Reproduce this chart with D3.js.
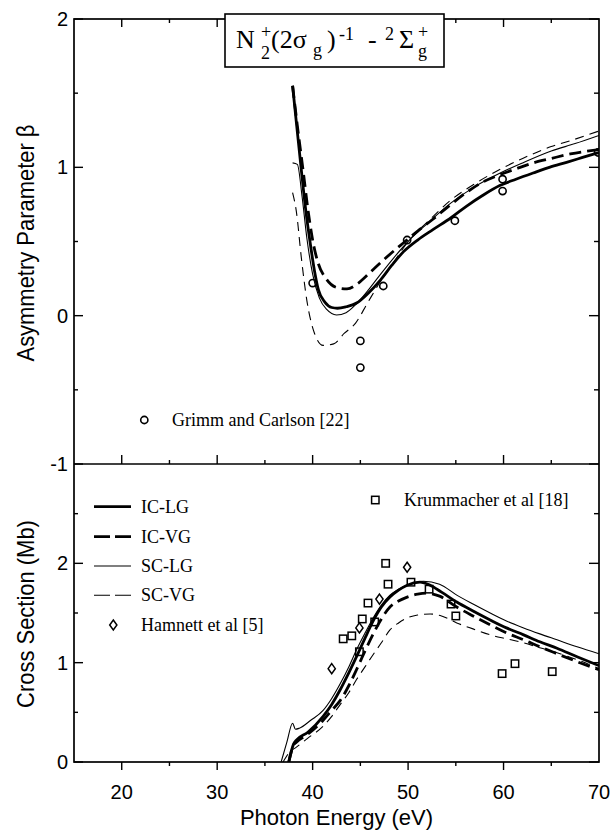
<!DOCTYPE html>
<html><head><meta charset="utf-8">
<script src="https://cdn.jsdelivr.net/npm/d3@7"></script>
<style>body{margin:0;background:#fff}svg{display:block}</style>
</head><body>
<svg id="c" width="613" height="831"></svg>
<script>
// ---------- data ----------
const energyTicks = [20, 30, 40, 50, 60, 70];
const energyMinor = [25, 35, 45, 55, 65];
const betaTicks = [-1, 0, 1, 2];
const betaMinor = [-0.5, 0.5, 1.5];
const csTicks = [0, 1, 2];
const csMinor = [0.5, 1.5, 2.5];

// Asymmetry parameter beta curves [energy, beta]
const betaICLG = [[37.9,1.55],[38.3,1.3],[38.85,0.96],[39.3,0.7],[39.7,0.51],[40.2,0.3],[40.6,0.175],[41.3,0.09],[42.0,0.055],[42.6,0.05],[43.5,0.06],[44.6,0.085],[45.8,0.15],[47.1,0.24],[48.3,0.34],[49.5,0.43],[51,0.51],[52.6,0.58],[54.5,0.66],[56.1,0.737],[57.8,0.81],[59.6,0.877],[61.3,0.92],[63.1,0.962],[64.8,1.0],[66.6,1.034],[68.2,1.065],[70,1.1]];
const betaICVG = [[37.9,1.55],[38.4,1.28],[39,0.98],[39.5,0.72],[40.0,0.51],[40.6,0.35],[41.4,0.25],[42.5,0.19],[43.6,0.18],[44.8,0.22],[46,0.29],[47.5,0.38],[49.5,0.49],[51,0.57],[52.6,0.65],[54.3,0.74],[56.1,0.83],[57.8,0.9],[59.6,0.95],[61.3,0.99],[63.1,1.03],[65,1.06],[67,1.09],[70,1.12]];
const betaSCLG = [[37.9,1.03],[38.4,1.02],[38.9,0.8],[39.4,0.52],[40.0,0.28],[40.7,0.12],[41.5,0.04],[42.5,0.005],[43.5,0.02],[44.6,0.08],[45.8,0.17],[47,0.27],[48.5,0.39],[50,0.5],[52,0.62],[54.5,0.76],[57,0.87],[59.6,0.96],[62,1.03],[65,1.11],[67.5,1.16],[70,1.215]];
const betaSCVG = [[37.9,0.83],[38.3,0.7],[38.8,0.4],[39.4,0.1],[40.2,-0.12],[41.1,-0.2],[42.2,-0.19],[43.3,-0.12],[44.5,-0.05],[45.7,0.08],[47,0.22],[48.5,0.36],[50,0.5],[52,0.63],[54.5,0.78],[57,0.89],[59.6,0.985],[62,1.06],[65,1.14],[67.5,1.19],[70,1.245]];
const grimmCarlson = [[40,0.22],[45,-0.17],[45,-0.35],[47.4,0.2],[49.9,0.51],[54.9,0.64],[59.9,0.84],[59.9,0.92],[69.9,1.10]];

// Cross section curves [energy, Mb]
const csICLG = [[37.5,0],[38.0,0.18],[38.3,0.22],[39.5,0.3],[41.1,0.46],[42.0,0.58],[42.9,0.73],[43.8,0.9],[44.6,1.06],[45.5,1.25],[46.4,1.43],[47.2,1.56],[48.1,1.66],[49.0,1.73],[49.9,1.78],[51.25,1.81],[52.3,1.78],[53.5,1.71],[55.1,1.61],[56.8,1.52],[58.6,1.43],[60.3,1.35],[62.1,1.28],[63.8,1.21],[65.6,1.145],[67.7,1.06],[70,0.97]];
const csICVG = [[37.5,0],[38.0,0.17],[38.3,0.2],[39.5,0.28],[41.1,0.42],[42.0,0.52],[42.9,0.62],[43.8,0.77],[44.6,0.93],[45.5,1.12],[46.4,1.30],[47.2,1.44],[48.1,1.56],[49.0,1.62],[49.9,1.66],[51.0,1.69],[51.9,1.70],[53.3,1.67],[55.1,1.56],[56.8,1.47],[58.6,1.38],[60.3,1.30],[62.1,1.23],[63.8,1.16],[65.6,1.09],[67.7,1.01],[70,0.93]];
const csSCLG = [[36.7,0],[37.3,0.2],[37.9,0.39],[38.2,0.33],[38.6,0.34],[39.8,0.42],[41.1,0.52],[42.0,0.64],[42.9,0.79],[43.8,0.96],[44.6,1.13],[45.5,1.30],[46.4,1.46],[47.2,1.58],[48.1,1.68],[49,1.74],[49.9,1.78],[51.6,1.82],[53.3,1.79],[55.1,1.68],[56.8,1.59],[58.6,1.50],[60.3,1.42],[62.1,1.35],[63.8,1.29],[65.6,1.23],[67.7,1.16],[70,1.09]];
const csSCVG = [[36.9,0],[37.6,0.1],[38.3,0.15],[39.5,0.24],[41.1,0.36],[42.0,0.46],[42.9,0.58],[43.8,0.7],[44.6,0.83],[45.5,0.96],[46.4,1.09],[47.2,1.2],[48.1,1.33],[49,1.40],[49.9,1.45],[51,1.48],[52.3,1.49],[53.5,1.47],[55.1,1.40],[56.8,1.34],[58.6,1.28],[60.3,1.24],[62.1,1.20],[63.8,1.15],[65.6,1.10],[67.7,1.03],[70,0.94]];
const krummacher = [[47.65,2.0],[47.9,1.79],[50.3,1.81],[52.2,1.74],[45.8,1.60],[46.5,1.41],[45.2,1.44],[44.1,1.27],[43.2,1.24],[44.9,1.11],[54.5,1.59],[55.0,1.47],[59.85,0.89],[61.2,0.99],[65.1,0.91]];
const hamnett = [[42.0,0.94],[44.9,1.35],[47.0,1.64],[49.9,1.96]];

const seriesNames = ["IC-LG", "IC-VG", "SC-LG", "SC-VG"];

// ---------- layout ----------
const svg = d3.select('#c');
const SERIF = '"Liberation Serif","Times New Roman",serif';
const SANS = '"Liberation Sans",Arial,Helvetica,sans-serif';
const L = 74, R = 599, T = 19, M = 464, B = 762;
const x = d3.scaleLinear().domain([15, 70]).range([L, R]);
const yB = d3.scaleLinear().domain([-1, 2]).range([M, T]);
const yC = d3.scaleLinear().domain([0, 3]).range([B, M]);

const styles = {
  "IC-LG": {w: 2.8, dash: null},
  "IC-VG": {w: 2.8, dash: "12,6"},
  "SC-LG": {w: 1.1, dash: null},
  "SC-VG": {w: 1.1, dash: "9,6"}
};

const defs = svg.append('defs');
defs.append('clipPath').attr('id', 'clipTop').append('rect').attr('x', L).attr('y', T).attr('width', R - L).attr('height', M - T);
defs.append('clipPath').attr('id', 'clipBot').append('rect').attr('x', L).attr('y', M).attr('width', R - L).attr('height', B - M);

// frames
svg.append('rect').attr('x', L).attr('y', T).attr('width', R - L).attr('height', B - T)
  .attr('fill', 'none').attr('stroke', '#000').attr('stroke-width', 1.7);
svg.append('line').attr('x1', L).attr('x2', R).attr('y1', M).attr('y2', M)
  .attr('stroke', '#000').attr('stroke-width', 1.7);

// ticks
const tg = svg.append('g').attr('stroke', '#000').attr('stroke-width', 1.4);
function hTicks(yPos, vals, len) {
  tg.selectAll(null).data(vals).enter().append('line')
    .attr('x1', d => x(d)).attr('x2', d => x(d)).attr('y1', yPos).attr('y2', yPos + len);
}
function vTicks(xPos, scale, vals, len) {
  tg.selectAll(null).data(vals).enter().append('line')
    .attr('x1', xPos).attr('x2', xPos + len).attr('y1', d => scale(d)).attr('y2', d => scale(d));
}
const inner = energyTicks.filter(v => v < 70);
hTicks(T, inner, 8); hTicks(T, energyMinor, 4);
hTicks(M, inner, -9); hTicks(M, energyMinor, -4);
hTicks(B, inner, 8); hTicks(B, energyMinor, 4);
vTicks(L, yB, betaTicks, 9); vTicks(L, yB, betaMinor, 4);
vTicks(L, yC, csTicks, 9); vTicks(L, yC, csMinor, 4);
vTicks(R, yB, betaTicks, -10); vTicks(R, yB, betaMinor, -5);
vTicks(R, yC, csTicks, -10); vTicks(R, yC, csMinor, -5);

// tick labels
svg.append('g').selectAll('text').data(energyTicks).enter().append('text')
  .attr('x', d => x(d)).attr('y', 799).attr('text-anchor', 'middle')
  .attr('font-family', SANS).attr('font-size', 20).text(d => d);
svg.append('g').selectAll('text').data(betaTicks).enter().append('text')
  .attr('x', 68).attr('y', d => yB(d) + 7).attr('text-anchor', 'end')
  .attr('font-family', SANS).attr('font-size', 20).text(d => d);
svg.append('g').selectAll('text').data(csTicks.filter(d => d < 3)).enter().append('text')
  .attr('x', 68).attr('y', d => yC(d) + 7).attr('text-anchor', 'end')
  .attr('font-family', SANS).attr('font-size', 20).text(d => d);

// axis titles
svg.append('text').attr('x', (L + R) / 2).attr('y', 825).attr('text-anchor', 'middle')
  .attr('font-family', SANS).attr('font-size', 22).text('Photon Energy (eV)');
const t1 = svg.append('text').attr('transform', 'translate(34,243) rotate(-90)').attr('text-anchor', 'middle')
  .attr('font-family', SANS).attr('font-size', 24).text('Asymmetry Parameter β');
const t2 = svg.append('text').attr('transform', 'translate(34,614) rotate(-90)').attr('text-anchor', 'middle')
  .attr('font-family', SANS).attr('font-size', 24).text('Cross Section (Mb)');
const n1 = t1.node().getComputedTextLength(), n2 = t2.node().getComputedTextLength();
const f = 237 / n1;
t1.attr('textLength', 237).attr('lengthAdjust', 'spacingAndGlyphs');
t2.attr('textLength', n2 * f).attr('lengthAdjust', 'spacingAndGlyphs');

// curves
const lineTop = d3.line().x(d => x(d[0])).y(d => yB(d[1])).curve(d3.curveMonotoneX);
const lineBot = d3.line().x(d => x(d[0])).y(d => yC(d[1])).curve(d3.curveMonotoneX);
const topSeries = [betaSCVG, betaSCLG, betaICVG, betaICLG];
const botSeries = [csSCVG, csSCLG, csICVG, csICLG];
const order = ["SC-VG", "SC-LG", "IC-VG", "IC-LG"];
const gTop = svg.append('g').attr('clip-path', 'url(#clipTop)');
const gBot = svg.append('g').attr('clip-path', 'url(#clipBot)');
order.forEach((name, i) => {
  const s = styles[name];
  gTop.append('path').attr('d', lineTop(topSeries[i])).attr('fill', 'none').attr('stroke', '#000')
    .attr('stroke-width', s.w).attr('stroke-dasharray', s.dash);
  gBot.append('path').attr('d', lineBot(botSeries[i])).attr('fill', 'none').attr('stroke', '#000')
    .attr('stroke-width', s.w).attr('stroke-dasharray', s.dash);
});

// markers
gTop.selectAll('circle.gc').data(grimmCarlson).enter().append('circle')
  .attr('cx', d => x(d[0])).attr('cy', d => yB(d[1])).attr('r', 3.6)
  .attr('fill', 'none').attr('stroke', '#000').attr('stroke-width', 1.6);
gBot.selectAll('rect.kr').data(krummacher).enter().append('rect')
  .attr('x', d => x(d[0]) - 3.7).attr('y', d => yC(d[1]) - 3.7).attr('width', 7.4).attr('height', 7.4)
  .attr('fill', 'none').attr('stroke', '#000').attr('stroke-width', 1.5);
const diamond = 'M0,-5L3.6,0L0,5L-3.6,0Z';
gBot.selectAll('path.hm').data(hamnett).enter().append('path')
  .attr('transform', d => `translate(${x(d[0])},${yC(d[1])})`).attr('d', diamond)
  .attr('fill', 'none').attr('stroke', '#000').attr('stroke-width', 1.5);

// legends
svg.append('circle').attr('cx', 144.3).attr('cy', 420).attr('r', 3.6)
  .attr('fill', 'none').attr('stroke', '#000').attr('stroke-width', 1.6);
svg.append('text').attr('x', 172).attr('y', 426).attr('font-family', SERIF).attr('font-size', 18)
  .text('Grimm and Carlson [22]');
svg.append('rect').attr('x', 371.6).attr('y', 496.3).attr('width', 7.4).attr('height', 7.4)
  .attr('fill', 'none').attr('stroke', '#000').attr('stroke-width', 1.5);
svg.append('text').attr('x', 404).attr('y', 506).attr('font-family', SERIF).attr('font-size', 18)
  .text('Krummacher et al [18]');
const legY = [506.7, 536.7, 566, 595.3];
seriesNames.forEach((name, i) => {
  const s = styles[name];
  svg.append('line').attr('x1', 94).attr('x2', 131).attr('y1', legY[i]).attr('y2', legY[i])
    .attr('stroke', '#000').attr('stroke-width', s.w).attr('stroke-dasharray', s.dash ? '16,5' : null);
  svg.append('text').attr('x', 141).attr('y', legY[i] + 6).attr('font-family', SERIF).attr('font-size', 18).text(name);
});
svg.append('path').attr('transform', 'translate(113.3,625)').attr('d', diamond)
  .attr('fill', 'none').attr('stroke', '#000').attr('stroke-width', 1.5);
svg.append('text').attr('x', 141).attr('y', 631).attr('font-family', SERIF).attr('font-size', 18).text('Hamnett et al [5]');

// title box
svg.append('rect').attr('x', 225).attr('y', 14).attr('width', 219).attr('height', 53)
  .attr('fill', '#fff').attr('stroke', '#000').attr('stroke-width', 1.6);
const tt = svg.append('g').attr('font-family', SERIF);
function piece(txt, px, py, size) {
  tt.append('text').attr('x', px).attr('y', py).attr('font-size', size).text(txt);
}
piece('N', 236, 48, 26);
piece('+', 261, 38, 18);
piece('2', 261, 59, 18);
piece('(2σ', 271, 48, 26);
piece('g', 313, 56, 18);
piece(')', 327, 48, 26);
piece('-1', 339, 40, 18);
piece('-', 368, 48, 26);
piece('2', 385, 40, 18);
piece('Σ', 399, 48, 26);
piece('g', 418, 57, 18);
piece('+', 418, 38, 18);
</script>
</body></html>
